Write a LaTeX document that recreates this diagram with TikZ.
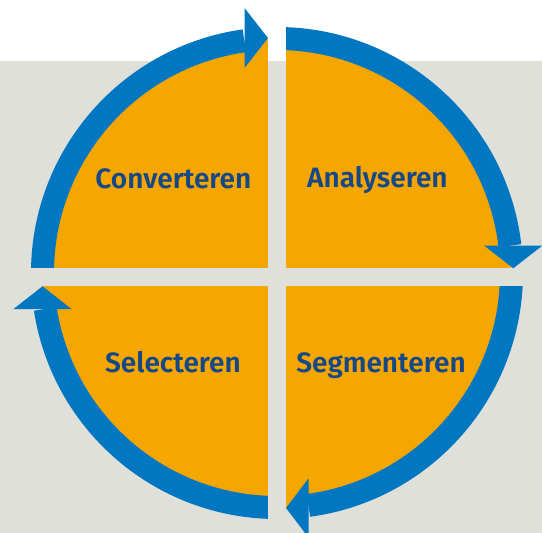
\documentclass[tikz,border=0pt]{standalone}
\usepackage{fontspec}
\newfontfamily\labelfont{Fira Sans SemiBold}
\definecolor{cycleblue}{RGB}{0,119,192}
\definecolor{cycleorange}{RGB}{246,166,0}
\definecolor{panelgray}{RGB}{224,224,219}
\definecolor{labelnavy}{RGB}{20,72,135}
\tikzset{
  ringarc/.style={draw=cycleblue, line width=23pt},
  tiphead/.style={fill=cycleblue},
  gapband/.style={fill=panelgray},
  quadlabel/.style={anchor=base, inner sep=0pt, text=labelnavy, font=\labelfont\fontsize{28}{33}\selectfont}
}
\begin{document}
\begin{tikzpicture}[x=1pt,y=1pt,yscale=-1,xscale=1]
\useasboundingbox (0,0) rectangle (542,533);

%Shape: Background
\fill[white] (0,0) rectangle (542,61);
\fill[panelgray] (0,61) rectangle (542,533);
\coordinate (C) at (277,273);

%Shape: Orange disk
\fill[cycleorange] (C) circle (234.5);

%Shape: Ring arcs
\draw[ringarc] (C) ++(178:234.5) arc[start angle=178, end angle=262, radius=234.5];
\draw[ringarc] (C) ++(270:234.5) arc[start angle=270, end angle=353.3, radius=234.5];
\draw[ringarc] (C) ++(0:234.5) arc[start angle=0, end angle=82.3, radius=234.5];
\draw[ringarc] (C) ++(90:234.5) arc[start angle=90, end angle=171.2, radius=234.5];

%Shape: Gaps
\fill[white] (268,0) rectangle (285.5,61);
\fill[gapband] (268,61) rectangle (285.5,533);
\fill[gapband] (0,268.3) rectangle (542,286);

%Shape: Arrow heads
\fill[tiphead] (244.5,8) -- (268,38) -- (244.5,68) -- cycle;
\fill[tiphead] (484,245.5) -- (513.3,268.3) -- (542.5,245.5) -- cycle;
\fill[tiphead] (13.5,309) -- (42.5,286.3) -- (71.5,309) -- cycle;
\fill[tiphead] (308.5,478.5) -- (286,508) -- (308.5,537.5) -- cycle;

% Text Node
\node[quadlabel] (convert) at (173.4,188) {Converteren};
% Text Node
\node[quadlabel] (analyse) at (377.4,187) {Analyseren};
% Text Node
\node[quadlabel] (select) at (173,372) {Selecteren};
% Text Node
\node[quadlabel] (segment) at (381,372) {Segmenteren};

\end{tikzpicture}
\end{document}
